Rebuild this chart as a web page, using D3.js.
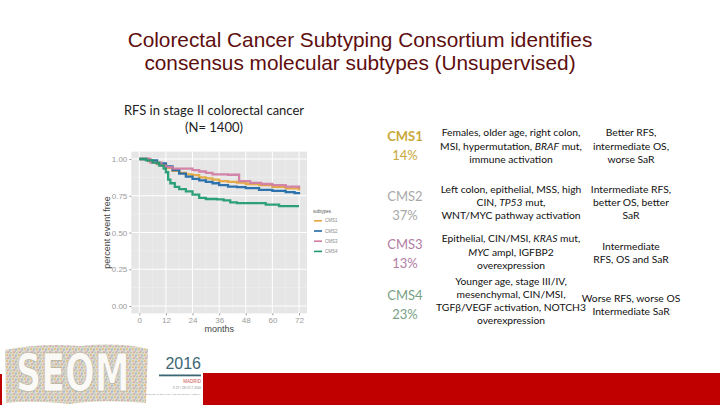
<!DOCTYPE html>
<html>
<head>
<meta charset="utf-8">
<script src="https://cdn.jsdelivr.net/npm/d3@7"></script>
<style>
  body { margin: 0; background: #fff; }
  svg { display: block; }
</style>
</head>
<body>
<div id="slide"></div>
<script>
// Kaplan-Meier style curves (months, fraction event free)
var cms1Months = [0, 4, 8, 12, 15, 18, 21, 24, 27, 30, 33, 36, 40, 44, 48, 54, 60, 66, 72];
var cms1Values = [1.0, 0.985, 0.965, 0.94, 0.92, 0.905, 0.895, 0.89, 0.875, 0.868, 0.86, 0.85, 0.845, 0.84, 0.83, 0.822, 0.81, 0.80, 0.785];

var cms2Months = [0, 4, 8, 12, 15, 18, 21, 24, 27, 30, 33, 36, 40, 44, 48, 54, 60, 66, 70, 72];
var cms2Values = [1.0, 0.99, 0.97, 0.95, 0.925, 0.90, 0.88, 0.865, 0.855, 0.845, 0.835, 0.822, 0.812, 0.808, 0.802, 0.79, 0.783, 0.775, 0.768, 0.76];

var cms3Months = [0, 5, 10, 12, 15, 20, 24, 27, 30, 33, 40, 44, 45, 50, 55, 60, 66, 72];
var cms3Values = [1.0, 0.975, 0.955, 0.945, 0.935, 0.935, 0.925, 0.915, 0.905, 0.895, 0.893, 0.893, 0.85, 0.838, 0.83, 0.822, 0.812, 0.80];

var cms4Months = [0, 3, 6, 9, 11, 12, 13, 14, 16, 18, 21, 24, 27, 30, 35, 38, 41, 44, 54, 57, 63, 72];
var cms4Values = [1.0, 0.99, 0.975, 0.955, 0.935, 0.91, 0.86, 0.835, 0.81, 0.795, 0.78, 0.757, 0.735, 0.728, 0.725, 0.718, 0.705, 0.70, 0.70, 0.69, 0.68, 0.68];

var seriesNames = ["CMS1", "CMS2", "CMS3", "CMS4"];
var seriesColors = ["#E3A63C", "#1E68A8", "#D07CA4", "#1E9A70"];

var xTicks = [0, 12, 24, 36, 48, 60, 72];
var yTicks = [0, 0.25, 0.5, 0.75, 1.0];

// table
var cmsShares = ["14%", "37%", "13%", "23%"];
var cmsColors = ["#C8A83A", "#A8A8A8", "#B27CA2", "#789F84"];
var features = [
  ["Females, older age, right colon,", "MSI, hypermutation, *BRAF* mut,", "immune activation"],
  ["Left colon, epithelial, MSS, high", "CIN, *TP53* mut,", "WNT/MYC pathway activation"],
  ["Epithelial, CIN/MSI, *KRAS* mut,", "*MYC* ampl, IGFBP2", "overexpression"],
  ["Younger age, stage III/IV,", "mesenchymal, CIN/MSI,", "TGFβ/VEGF activation, NOTCH3", "overexpression"]
];
var outcomes = [
  ["Better RFS,", "intermediate OS,", "worse SaR"],
  ["Intermediate RFS,", "better OS,  better", "SaR"],
  ["Intermediate", "RFS, OS and SaR"],
  ["Worse RFS, worse OS", "Intermediate SaR"]
];

var W = 720, H = 405;
var svg = d3.select("#slide").append("svg")
    .attr("width", W)
    .attr("height", H);

// Title
var title = svg.append("text")
    .attr("text-anchor", "middle")
    .style("font-family", "'Liberation Sans', Arial, sans-serif")
    .style("font-size", "20.8px")
    .attr("fill", "#5E0E0E");
title.append("tspan").attr("x", 360).attr("y", 47).text("Colorectal Cancer Subtyping Consortium identifies");
title.append("tspan").attr("x", 360).attr("y", 70).text("consensus molecular subtypes (Unsupervised)");

// Chart subtitle
var sub = svg.append("text")
    .attr("text-anchor", "middle")
    .style("font-family", "Lato, sans-serif")
    .style("font-size", "13px")
    .attr("fill", "#222");
sub.append("tspan").attr("x", 214).attr("y", 115).text("RFS in stage II colorectal cancer");
sub.append("tspan").attr("x", 214).attr("y", 132).text("(N= 1400)");

// ---- survival plot ----
var x = d3.scaleLinear().domain([0, 72]).range([139.3, 299]);
var y = d3.scaleLinear().domain([0, 1]).range([306, 159]);
var xPad = 3.6, yPad = 0.05;

var plot = svg.append("g");

plot.append("rect")
    .attr("x", x(-xPad))
    .attr("y", y(1 + yPad))
    .attr("width", x(72 + xPad) - x(-xPad))
    .attr("height", y(-yPad) - y(1 + yPad))
    .attr("fill", "#E6E6E6");

// minor grid
var xMinor = xTicks.slice(0, -1).map(function(d) { return d + 6; });
var yMinor = yTicks.slice(0, -1).map(function(d) { return d + 0.125; });
plot.append("g").selectAll("line").data(xMinor).enter().append("line")
    .attr("x1", function(d) { return x(d); }).attr("x2", function(d) { return x(d); })
    .attr("y1", y(1 + yPad)).attr("y2", y(-yPad))
    .attr("stroke", "#F0F0F0").attr("stroke-width", 0.5);
plot.append("g").selectAll("line").data(yMinor).enter().append("line")
    .attr("y1", function(d) { return y(d); }).attr("y2", function(d) { return y(d); })
    .attr("x1", x(-xPad)).attr("x2", x(72 + xPad))
    .attr("stroke", "#F0F0F0").attr("stroke-width", 0.5);

// major grid
plot.append("g").selectAll("line").data(xTicks).enter().append("line")
    .attr("x1", function(d) { return x(d); }).attr("x2", function(d) { return x(d); })
    .attr("y1", y(1 + yPad)).attr("y2", y(-yPad))
    .attr("stroke", "#fff").attr("stroke-width", 1);
plot.append("g").selectAll("line").data(yTicks).enter().append("line")
    .attr("y1", function(d) { return y(d); }).attr("y2", function(d) { return y(d); })
    .attr("x1", x(-xPad)).attr("x2", x(72 + xPad))
    .attr("stroke", "#fff").attr("stroke-width", 1);

// axes
var xAxis = plot.append("g")
    .attr("transform", "translate(0," + y(-yPad) + ")")
    .call(d3.axisBottom(x).tickValues(xTicks).tickSize(2).tickPadding(2).tickFormat(d3.format("d")));
var yAxis = plot.append("g")
    .attr("transform", "translate(" + x(-xPad) + ",0)")
    .call(d3.axisLeft(y).tickValues(yTicks).tickSize(2).tickPadding(2).tickFormat(d3.format(".2f")));
[xAxis, yAxis].forEach(function(a) {
  a.select(".domain").remove();
  a.selectAll(".tick line").attr("stroke", "#9a9a9a");
  a.selectAll(".tick text")
      .attr("fill", "#9a9a9a")
      .style("font-family", "'Liberation Sans', Arial, sans-serif")
      .style("font-size", "8px");
});

plot.append("text")
    .attr("x", (x(0) + x(72)) / 2)
    .attr("y", 332)
    .attr("text-anchor", "middle")
    .style("font-family", "'Liberation Sans', Arial, sans-serif")
    .style("font-size", "9px")
    .attr("fill", "#444")
    .text("months");

plot.append("text")
    .attr("transform", "translate(110," + y(0.5) + ") rotate(-90)")
    .attr("text-anchor", "middle")
    .style("font-family", "'Liberation Sans', Arial, sans-serif")
    .style("font-size", "9px")
    .attr("fill", "#444")
    .text("percent event free");

// curves
var seriesData = [
  d3.zip(cms1Months, cms1Values),
  d3.zip(cms2Months, cms2Values),
  d3.zip(cms3Months, cms3Values),
  d3.zip(cms4Months, cms4Values)
];
var line = d3.line()
    .x(function(d) { return x(d[0]); })
    .y(function(d) { return y(d[1]); })
    .curve(d3.curveStepAfter);

plot.append("g").selectAll("path")
    .data(seriesData)
    .enter()
    .append("path")
    .attr("d", line)
    .attr("fill", "none")
    .attr("stroke", function(d, i) { return seriesColors[i]; })
    .attr("stroke-width", 2.3)
    .attr("stroke-opacity", 0.92);

// legend
var legend = plot.append("g").attr("transform", "translate(313,211)");
legend.append("text")
    .attr("x", 0).attr("y", 2)
    .style("font-family", "'Liberation Sans', Arial, sans-serif")
    .style("font-size", "4.5px")
    .attr("fill", "#555")
    .text("subtypes");
var items = legend.selectAll("g.item").data(seriesNames).enter().append("g")
    .attr("transform", function(d, i) { return "translate(0," + (9.8 + i * 10.2) + ")"; });
items.append("line")
    .attr("x1", 1).attr("x2", 9).attr("y1", 0).attr("y2", 0)
    .attr("stroke", function(d, i) { return seriesColors[i]; })
    .attr("stroke-width", 1.6);
items.append("text")
    .attr("x", 12).attr("y", 1.6)
    .style("font-family", "'Liberation Sans', Arial, sans-serif")
    .style("font-size", "4.5px")
    .attr("fill", "#888")
    .text(function(d) { return d; });

// ---- table ----
var lineGap = 13.2;
var rowCenter = [146, 202.5, 252, 301];
var cmsCenter = [146, 206, 254, 305];
var outCenter = [146, 202.5, 253, 305];
var font = "Lato, 'Open Sans', sans-serif";

function addLines(g, lines, cx, cy, size) {
  var top = cy - (lines.length - 1) * lineGap / 2;
  lines.forEach(function(s, k) {
    var t = g.append("text")
        .attr("x", cx)
        .attr("y", top + k * lineGap)
        .attr("dy", "0.35em")
        .attr("text-anchor", "middle")
        .style("font-family", font)
        .style("font-size", size)
        .attr("fill", "#111");
    s.split("*").forEach(function(part, j) {
      if (!part) return;
      t.append("tspan").text(part).style("font-style", j % 2 ? "italic" : "normal");
    });
  });
}

var table = svg.append("g");
seriesNames.forEach(function(name, i) {
  var c = table.append("text")
      .attr("text-anchor", "middle")
      .style("font-family", font)
      .style("font-size", "13px")
      .attr("fill", cmsColors[i]);
  c.append("tspan").attr("x", 405).attr("y", cmsCenter[i] - 9.5).attr("dy", "0.35em")
      .style("font-weight", i === 0 ? "bold" : "normal").text(name);
  c.append("tspan").attr("x", 405).attr("y", cmsCenter[i] + 9.5).attr("dy", "0.35em").text(cmsShares[i]);
  addLines(table, features[i], 511, rowCenter[i], "10.3px");
  addLines(table, outcomes[i], 631, outCenter[i], "10.3px");
});

// ---- footer: logo and red bar ----
svg.append("rect")
    .attr("x", 203).attr("y", 373)
    .attr("width", W - 203).attr("height", H - 373)
    .attr("fill", "#C00000");
svg.append("rect")
    .attr("x", 0).attr("y", 374)
    .attr("width", 2).attr("height", H - 374)
    .attr("fill", "#C00000");

var defs = svg.append("defs");
var pat = defs.append("pattern")
    .attr("id", "crowd")
    .attr("width", 6).attr("height", 6)
    .attr("patternUnits", "userSpaceOnUse");
pat.append("rect").attr("width", 6).attr("height", 6).attr("fill", "#cfc8b6");
pat.append("circle").attr("cx", 1).attr("cy", 1).attr("r", 1).attr("fill", "#d9a23a");
pat.append("circle").attr("cx", 4).attr("cy", 1.5).attr("r", 0.9).attr("fill", "#6d95b4");
pat.append("circle").attr("cx", 2).attr("cy", 4.2).attr("r", 0.9).attr("fill", "#c77070");
pat.append("circle").attr("cx", 5).attr("cy", 4.8).attr("r", 0.8).attr("fill", "#86a874");
pat.append("circle").attr("cx", 3.4).attr("cy", 3).attr("r", 0.6).attr("fill", "#8b7d9e");

svg.append("path")
    .attr("d", "M5,350 Q40,343 80,346 Q120,342 148,349 L146,403 Q100,399 70,404 Q30,400 6,403 Z")
    .attr("fill", "url(#crowd)")
    .attr("opacity", 0.7);
// letters stretched vertically so their width stays within the logo
svg.append("text")
    .attr("transform", "translate(16,391) scale(1,1.45)")
    .attr("x", 0).attr("y", 0)
    .style("font-family", "'DejaVu Sans', sans-serif")
    .style("font-weight", "bold")
    .style("font-size", "35px")
    .attr("fill", "#FAF9F6")
    .attr("stroke", "#b8b2a2")
    .attr("stroke-width", 0.5)
    .text("SEOM");

svg.append("text")
    .attr("x", 201).attr("y", 369)
    .attr("text-anchor", "end")
    .style("font-family", "'Liberation Sans', Arial, sans-serif")
    .style("font-size", "16px")
    .attr("fill", "#3C6673")
    .text("2016");
svg.append("rect")
    .attr("x", 159).attr("y", 374.5).attr("width", 42).attr("height", 1.8)
    .attr("fill", "#3C6673");
svg.append("text")
    .attr("x", 201).attr("y", 383)
    .attr("text-anchor", "end")
    .style("font-family", "'Liberation Sans', Arial, sans-serif")
    .style("font-size", "4.5px")
    .attr("fill", "#D05050")
    .text("MADRID");
svg.append("text")
    .attr("x", 201).attr("y", 389)
    .attr("text-anchor", "end")
    .style("font-family", "'Liberation Sans', Arial, sans-serif")
    .style("font-size", "3.2px")
    .attr("fill", "#888")
    .text("X 27 / 28 OCT 2016");
svg.append("text")
    .attr("x", 201).attr("y", 394.5)
    .attr("text-anchor", "end")
    .style("font-family", "'Liberation Sans', Arial, sans-serif")
    .style("font-size", "2.4px")
    .attr("fill", "#999")
    .text("SOCIEDAD ESPAÑOLA DE ONCOLOGÍA MÉDICA");
</script>
</body>
</html>
